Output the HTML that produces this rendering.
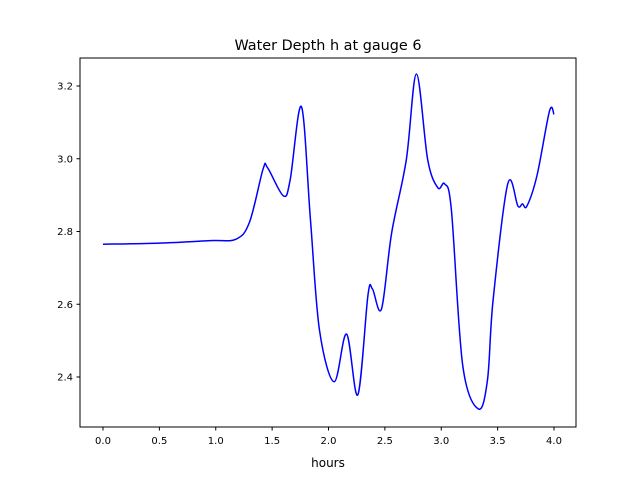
<!DOCTYPE html>
<html><head><meta charset="utf-8"><style>
body{margin:0;background:#fff;font-family:"Liberation Sans","DejaVu Sans",sans-serif}
</style></head><body>
<svg id="chart" width="640" height="480" xmlns="http://www.w3.org/2000/svg" font-family="DejaVu Sans, Liberation Sans, sans-serif">
<rect width="640" height="480" fill="#fff"/>
<text x="328" y="50" text-anchor="middle" font-size="14.4">Water Depth h at gauge 6</text>
<g id="axes"></g>
<text x="328" y="467" text-anchor="middle" font-size="12">hours</text>
</svg>
<script>
const hours=[0,0.5,0.95,1.18,1.30,1.42,1.46,1.60,1.66,1.76,1.84,1.92,2.05,2.16,2.26,2.35,2.39,2.47,2.56,2.69,2.78,2.88,2.97,3.03,3.09,3.19,3.33,3.41,3.46,3.59,3.68,3.72,3.76,3.85,3.96,4.0];
const depth=[2.765,2.768,2.775,2.779,2.826,2.972,2.975,2.898,2.942,3.143,2.832,2.529,2.387,2.518,2.351,2.625,2.642,2.587,2.796,2.997,3.233,2.997,2.920,2.931,2.859,2.433,2.312,2.392,2.612,2.931,2.870,2.876,2.870,2.955,3.131,3.122];
const xTicks=[0,0.5,1.0,1.5,2.0,2.5,3.0,3.5,4.0];
const xTickLabels=["0.0","0.5","1.0","1.5","2.0","2.5","3.0","3.5","4.0"];
const yTicks=[2.4,2.6,2.8,3.0,3.2];
const yTickLabels=["2.4","2.6","2.8","3.0","3.2"];
const L=80,R=576,T=58,B=427;
const xs=h=>103+h*112.75;
const ys=v=>86+(3.2-v)*363.75;
const g=document.getElementById('axes');
const NS='http://www.w3.org/2000/svg';
function mk(t,a){const e=document.createElementNS(NS,t);for(const k in a)e.setAttribute(k,a[k]);g.appendChild(e);return e;}
// line
const P=hours.map((h,i)=>[xs(h),ys(depth[i])]);
let d='M'+P[0][0]+','+P[0][1];
for(let i=0;i<P.length-1;i++){const p0=P[Math.max(0,i-1)],p1=P[i],p2=P[i+1],p3=P[Math.min(P.length-1,i+2)];
const c1=[p1[0]+(p2[0]-p0[0])/6,p1[1]+(p2[1]-p0[1])/6],c2=[p2[0]-(p3[0]-p1[0])/6,p2[1]-(p3[1]-p1[1])/6];
d+=' C'+c1[0]+','+c1[1]+' '+c2[0]+','+c2[1]+' '+p2[0]+','+p2[1];}
const line=mk('path',{d:d,fill:'none',stroke:'#0000ff','stroke-width':1.5});


const frame=mk('rect',{x:L,y:T,width:R-L,height:B-T,fill:'none',stroke:'#000','stroke-width':1});


xTicks.forEach((t,i)=>{const x=xs(t);
mk('line',{x1:x,x2:x,y1:B,y2:B+3.5,stroke:'#000'});
const tx=mk('text',{x:x,y:B+17,'text-anchor':'middle','font-size':10});tx.textContent=xTickLabels[i];

});
yTicks.forEach((t,i)=>{const y=ys(t);
mk('line',{x1:L-3.5,x2:L,y1:y,y2:y,stroke:'#000'});
const tx=mk('text',{x:L-7,y:y+3.5,'text-anchor':'end','font-size':10});tx.textContent=yTickLabels[i];

});
</script>
</body></html>
